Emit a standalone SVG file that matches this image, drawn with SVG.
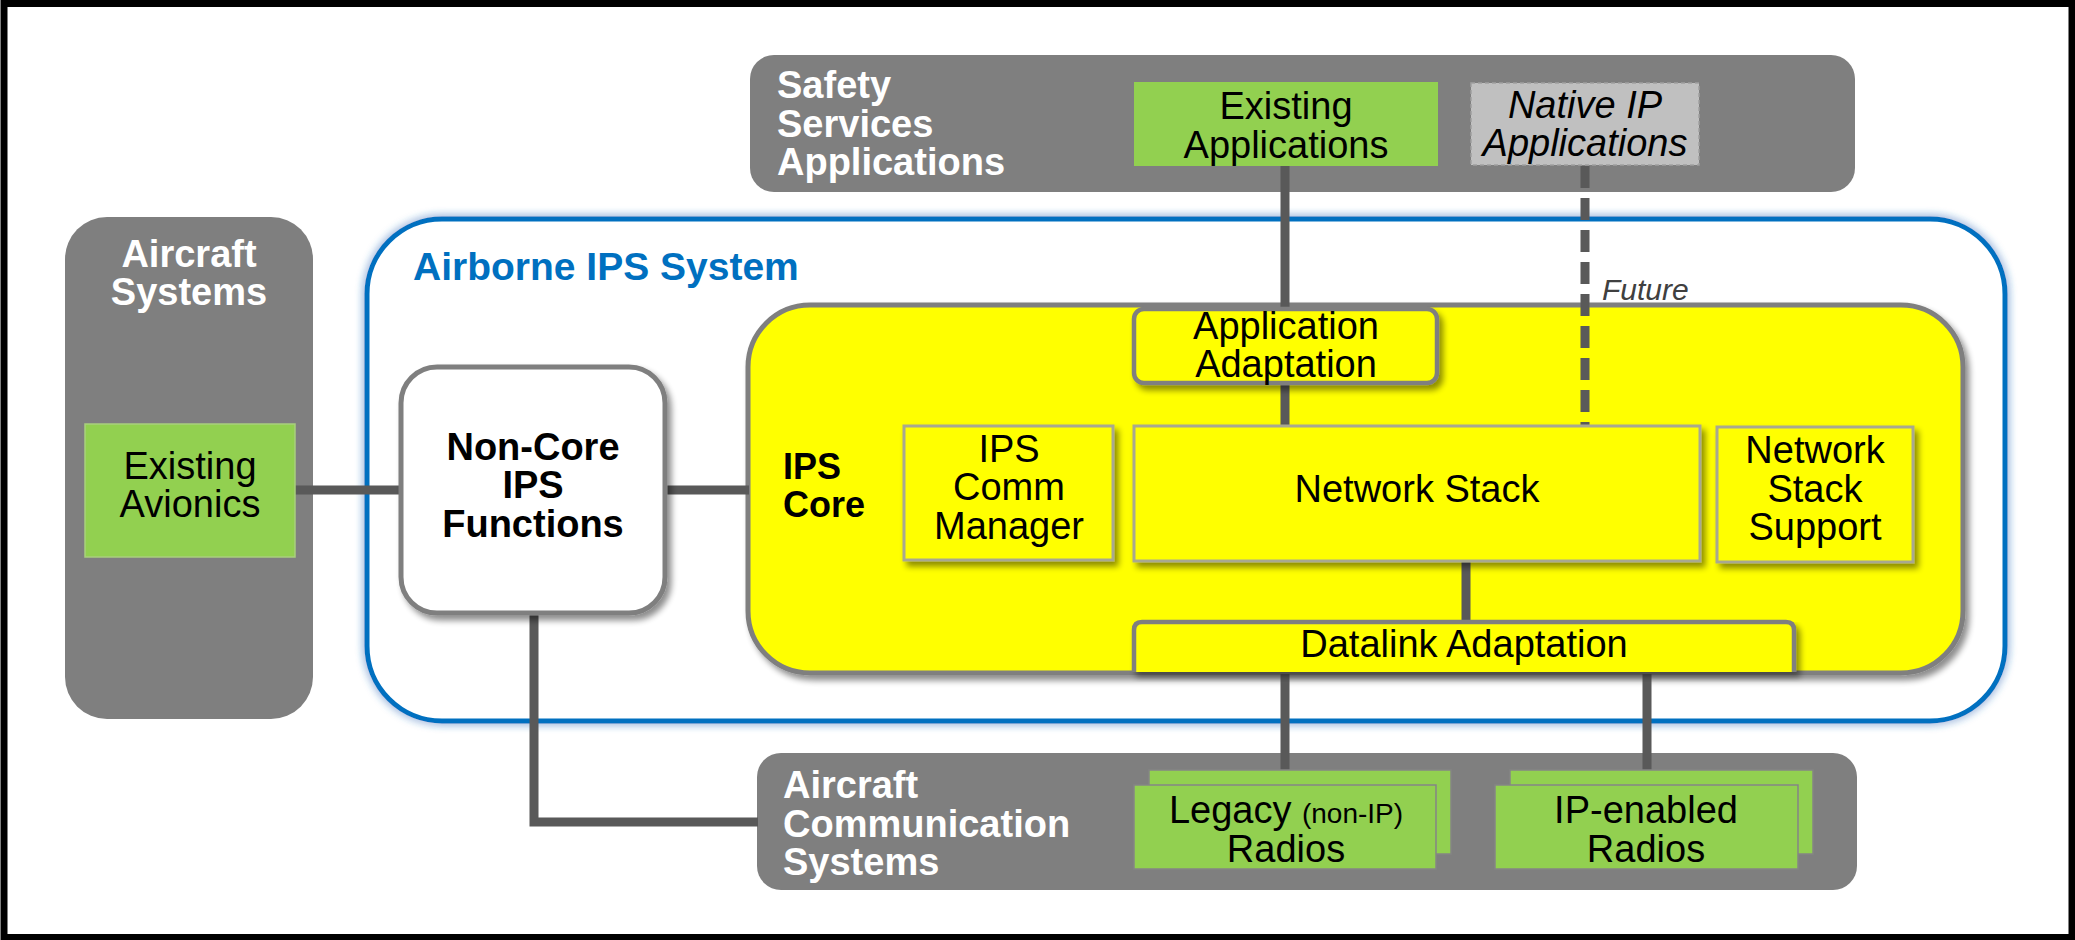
<svg xmlns="http://www.w3.org/2000/svg" width="2075" height="940" viewBox="0 0 2075 940">
<defs>
<style>
.gbox{fill:#7F7F7F}
.wt{fill:#fff;font-family:"Liberation Sans",Arial,sans-serif;font-weight:bold;font-size:38px}
.lbl{fill:#000;font-family:"Liberation Sans",Arial,sans-serif;font-size:38px;text-anchor:middle}
.lbs{fill:#000;font-family:"Liberation Sans",Arial,sans-serif;font-size:36px;font-weight:bold}
.bold{font-weight:bold}
.green{fill:#92D050}
.radio{fill:#92D050;stroke:#858585;stroke-width:1.5}
.inner{fill:#FFFF00;stroke:#A8A890;stroke-width:3}
.adapt{fill:#FFFF00;stroke:#7F7F7F;stroke-width:4.5}
.conn{stroke:#595959;stroke-width:9;fill:none}
</style>
<filter id="sh" x="-10%" y="-10%" width="125%" height="130%">
<feGaussianBlur in="SourceAlpha" stdDeviation="3"/>
<feOffset dx="4" dy="5" result="o"/>
<feComponentTransfer><feFuncA type="linear" slope="0.45"/></feComponentTransfer>
<feMerge><feMergeNode/><feMergeNode in="SourceGraphic"/></feMerge>
</filter>
<filter id="glow" x="-5%" y="-10%" width="110%" height="120%">
<feGaussianBlur in="SourceGraphic" stdDeviation="4"/>
<feMerge><feMergeNode/><feMergeNode in="SourceGraphic"/></feMerge>
</filter>
</defs>
<rect x="0" y="0" width="2075" height="940" fill="#fff"/>
<rect x="4" y="3.5" width="2068" height="934" fill="none" stroke="#000" stroke-width="7"/>

<g id="safety-services">
<rect class="gbox" x="750" y="55" width="1105" height="137" rx="24"/>
<text class="wt" x="777" y="98">Safety</text>
<text class="wt" x="777" y="137">Services</text>
<text class="wt" x="777" y="175">Applications</text>
</g>

<g id="aircraft-systems">
<rect class="gbox" x="65" y="217" width="248" height="502" rx="42"/>
<text class="wt" x="189" y="267" text-anchor="middle">Aircraft</text>
<text class="wt" x="189" y="305" text-anchor="middle">Systems</text>
</g>

<g id="aircraft-comm">
<rect class="gbox" x="757" y="753" width="1100" height="137" rx="24"/>
<text class="wt" x="783" y="798">Aircraft</text>
<text class="wt" x="783" y="837">Communication</text>
<text class="wt" x="783" y="875">Systems</text>
</g>

<g id="airborne-ips">
<rect x="367" y="219" width="1638" height="502" rx="75" fill="#fff" stroke="#0070C0" stroke-width="5" filter="url(#glow)"/>
<text x="413" y="280" fill="#0070C0" font-family="Liberation Sans, Arial, sans-serif" font-weight="bold" font-size="39">Airborne IPS System</text>
</g>

<g id="ips-core">
<rect x="748" y="305" width="1215" height="368" rx="62" fill="#FFFF00" stroke="#7F7F7F" stroke-width="5" filter="url(#sh)"/>
<text class="lbs" x="783" y="479">IPS</text>
<text class="lbs" x="783" y="517">Core</text>
</g>

<g id="connectors">
<line class="conn" x1="1285" y1="166" x2="1285" y2="309"/>
<line class="conn" x1="1285" y1="383" x2="1285" y2="426"/>
<line class="conn" x1="1585" y1="166" x2="1585" y2="426" stroke-width="6" stroke-dasharray="22 10"/>
<line class="conn" x1="1466" y1="562" x2="1466" y2="622"/>
<line class="conn" x1="1285" y1="674" x2="1285" y2="786"/>
<line class="conn" x1="1647" y1="674" x2="1647" y2="786"/>
<line class="conn" x1="295" y1="490" x2="401" y2="490" stroke-width="10"/>
<line class="conn" x1="665" y1="490" x2="749" y2="490" stroke-width="10"/>
<path class="conn" d="M534 614 V822 H758" stroke-width="10"/>
<text x="1602" y="300" fill="#404040" font-family="Liberation Sans, Arial, sans-serif" font-style="italic" font-size="30">Future</text>
</g>

<g id="existing-applications">
<rect class="green" x="1134" y="82" width="304" height="84"/>
<text class="lbl" x="1286" y="119">Existing</text>
<text class="lbl" x="1286" y="158">Applications</text>
</g>

<g id="native-ip-applications">
<rect x="1471" y="83" width="228" height="82" fill="#C0C0C0" stroke="#A0A0A0" stroke-width="1.5" stroke-dasharray="4 3"/>
<text class="lbl" x="1585" y="118" font-style="italic" font-size="31">Native IP</text>
<text class="lbl" x="1585" y="156" font-style="italic" font-size="31">Applications</text>
</g>

<g id="existing-avionics">
<rect class="green" x="85" y="424" width="210" height="133" stroke="#A9CF7E" stroke-width="1.5"/>
<text class="lbl" x="190" y="479">Existing</text>
<text class="lbl" x="190" y="517">Avionics</text>
</g>

<g id="non-core-ips">
<rect x="401" y="367" width="264" height="246" rx="36" fill="#fff" stroke="#7F7F7F" stroke-width="5" filter="url(#sh)"/>
<text class="lbl bold" x="533" y="460">Non-Core</text>
<text class="lbl bold" x="533" y="498">IPS</text>
<text class="lbl bold" x="533" y="537">Functions</text>
</g>

<g id="application-adaptation">
<rect class="adapt" x="1134" y="309" width="303" height="74" rx="10" filter="url(#sh)"/>
<text class="lbl" x="1286" y="339" font-size="34">Application</text>
<text class="lbl" x="1286" y="377" font-size="34">Adaptation</text>
</g>

<g id="ips-comm-manager">
<rect class="inner" x="904" y="426" width="209" height="134" filter="url(#sh)"/>
<text class="lbl" x="1009" y="462">IPS</text>
<text class="lbl" x="1009" y="500">Comm</text>
<text class="lbl" x="1009" y="539">Manager</text>
</g>

<g id="network-stack">
<rect class="inner" x="1134" y="426" width="566" height="135" filter="url(#sh)"/>
<text class="lbl" x="1417" y="502">Network Stack</text>
</g>

<g id="network-stack-support">
<rect class="inner" x="1717" y="427" width="196" height="135" filter="url(#sh)"/>
<text class="lbl" x="1815" y="463">Network</text>
<text class="lbl" x="1815" y="502">Stack</text>
<text class="lbl" x="1815" y="540">Support</text>
</g>

<g id="datalink-adaptation">
<path class="adapt" d="M1134 672 V630 Q1134 622 1142 622 H1786 Q1794 622 1794 630 V672" filter="url(#sh)"/>
<text class="lbl" x="1464" y="657">Datalink Adaptation</text>
</g>

<g id="legacy-radios">
<rect class="radio" x="1149" y="770" width="302" height="84"/>
<rect class="radio" x="1134" y="785" width="302" height="84"/>
<text class="lbl" x="1286" y="823">Legacy <tspan font-size="28">(non-IP)</tspan></text>
<text class="lbl" x="1286" y="862">Radios</text>
</g>

<g id="ip-enabled-radios">
<rect class="radio" x="1510" y="770" width="303" height="84"/>
<rect class="radio" x="1495" y="785" width="303" height="84"/>
<text class="lbl" x="1646" y="823">IP-enabled</text>
<text class="lbl" x="1646" y="862">Radios</text>
</g>
</svg>
